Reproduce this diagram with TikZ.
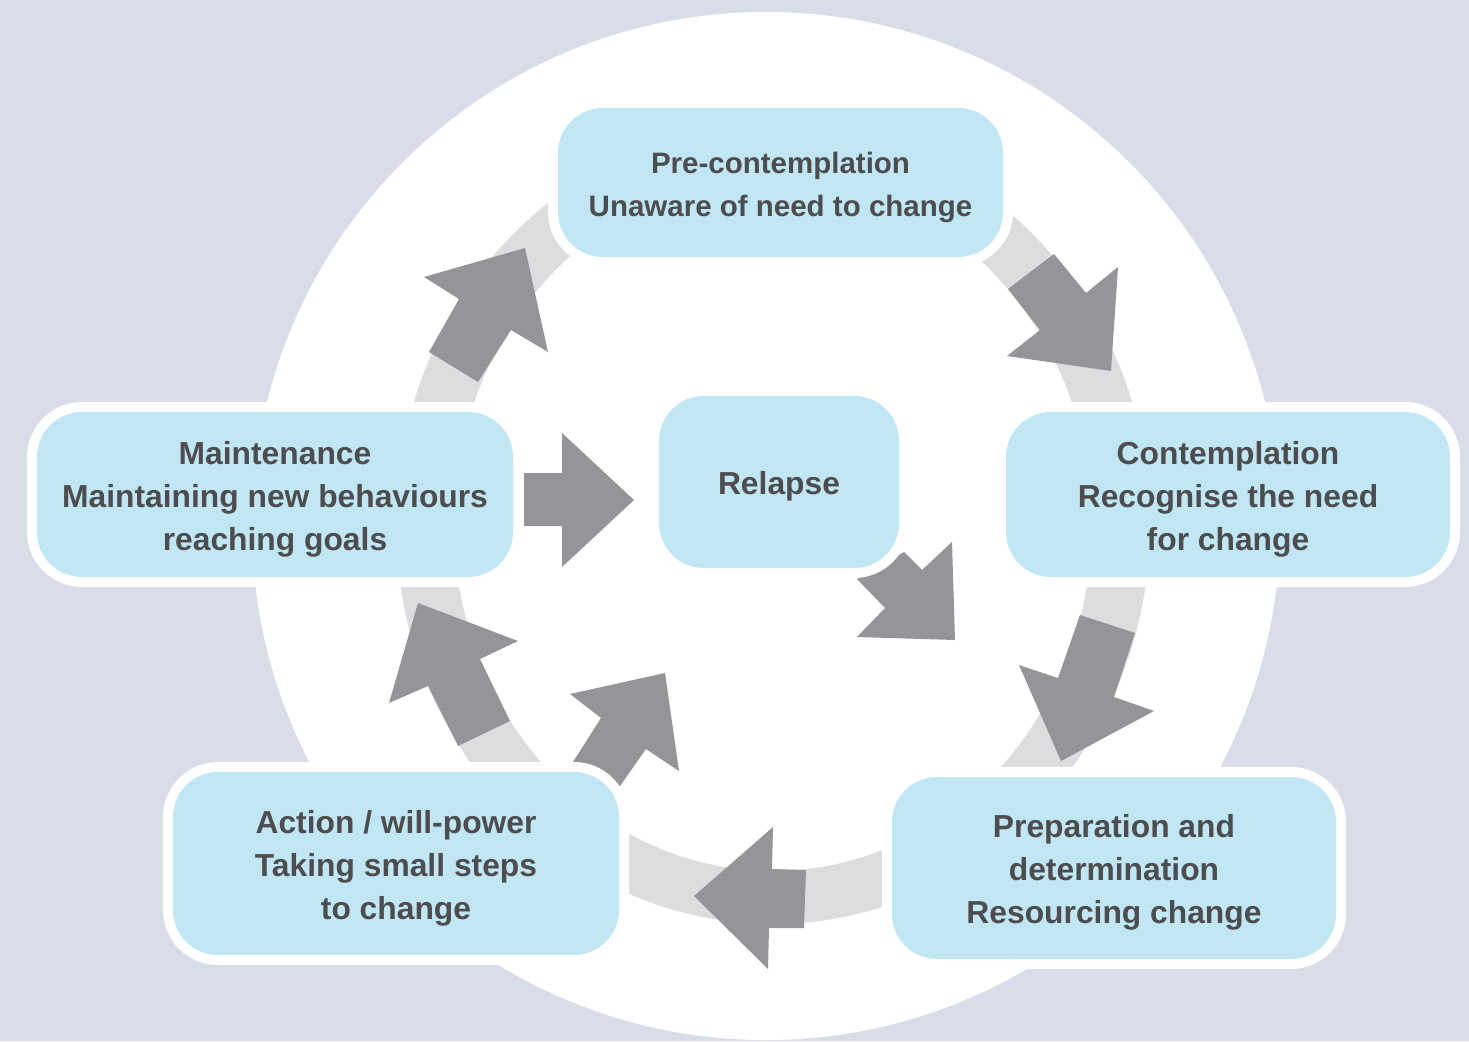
\documentclass[tikz,border=0pt]{standalone}
\usepackage{fontspec}
\setmainfont{Liberation Sans}
\definecolor{bgblue}{HTML}{D9DDE9}
\definecolor{boxblue}{HTML}{C1E6F4}
\definecolor{ringgrey}{HTML}{DCDDDF}
\definecolor{arrowgrey}{HTML}{939598}
\definecolor{textgrey}{HTML}{4D4D4F}
% stage caption: centred lines, set a little below the geometric centre
\newcommand{\stagetext}[1]{\raisebox{-4pt}[\height][\depth]{\begin{tabular}{@{}c@{}}#1\end{tabular}}}
\begin{document}
\begin{tikzpicture}[x=1pt,y=-1pt,
  stage/.style={rectangle, rounded corners=45pt, fill=boxblue,
    preaction={draw=white, line width=20pt},
    text=textgrey, align=center, inner sep=0pt,
    font={\bfseries\fontsize{31.8pt}{43pt}\selectfont}},
  smalltext/.style={font={\bfseries\fontsize{29.5pt}{43pt}\selectfont}},
  blockarrow/.style={fill=arrowgrey},
  cyclering/.style={fill=ringgrey, even odd rule}]

% canvas
\useasboundingbox (0,0) rectangle (1469,1041);
\fill[bgblue] (0,0) rectangle (1469,1041);
\fill[white] (766,526) circle [radius=514pt];

% grey track of the cycle
\fill[cyclering] (773,524) ellipse [x radius=377pt, y radius=400pt]
                 (773,524) ellipse [x radius=319pt, y radius=347pt];

% block arrows along the cycle
\fill[blockarrow] (525,248) -- (548,352) -- (511,330) -- (478,382) -- (429,352) -- (459,299) -- (424,277) -- cycle;
\fill[blockarrow] (1008,289) -- (1054,254) -- (1086,293) -- (1118,267) -- (1111,371) -- (1007,356) -- (1040,330) -- cycle;
\fill[blockarrow] (1080,615) -- (1135,633) -- (1114,697) -- (1154,711) -- (1061,761) -- (1019,665) -- (1058,678) -- cycle;
\fill[blockarrow] (694,896) -- (773,827) -- (772,869) -- (806,870) -- (804,928) -- (769,928) -- (768,969) -- cycle;
\fill[blockarrow] (418,603) -- (518,641) -- (480,659) -- (510,721) -- (458,746) -- (428,686) -- (389,703) -- cycle;
\fill[blockarrow] (665,673) -- (679,771) -- (646,749) -- (620,786) -- (573,762) -- (601,718) -- (570,694) -- cycle;
\fill[blockarrow] (524,473) -- (562,473) -- (562,433) -- (634,500) -- (562,567) -- (562,526) -- (524,526) -- cycle;
\fill[blockarrow] (857,579) -- (904,552) -- (922,570) -- (952,542) -- (955,640) -- (857,637) -- (885,608) -- cycle;

% stages
\node[stage, smalltext, minimum width=445pt, minimum height=149pt] (pre) at (780.5,182.5)
  {\stagetext{Pre-contemplation\\Unaware of need to change}};
\node[stage, minimum width=476pt, minimum height=165pt] (maint) at (275,494.5)
  {\stagetext{Maintenance\\Maintaining new behaviours\\reaching goals}};
\node[stage, minimum width=240pt, minimum height=172pt] (relapse) at (779,482)
  {\stagetext{Relapse}};
\node[stage, minimum width=444pt, minimum height=165pt] (contemp) at (1228,494.5)
  {\stagetext{Contemplation\\Recognise the need\\for change}};
\node[stage, minimum width=444pt, minimum height=182pt] (prep) at (1114,868)
  {\stagetext{Preparation and\\determination\\Resourcing change}};
\node[stage, minimum width=446pt, minimum height=183pt] (action) at (396,863.5)
  {\stagetext{Action / will-power\\Taking small steps\\to change}};
\end{tikzpicture}
\end{document}
